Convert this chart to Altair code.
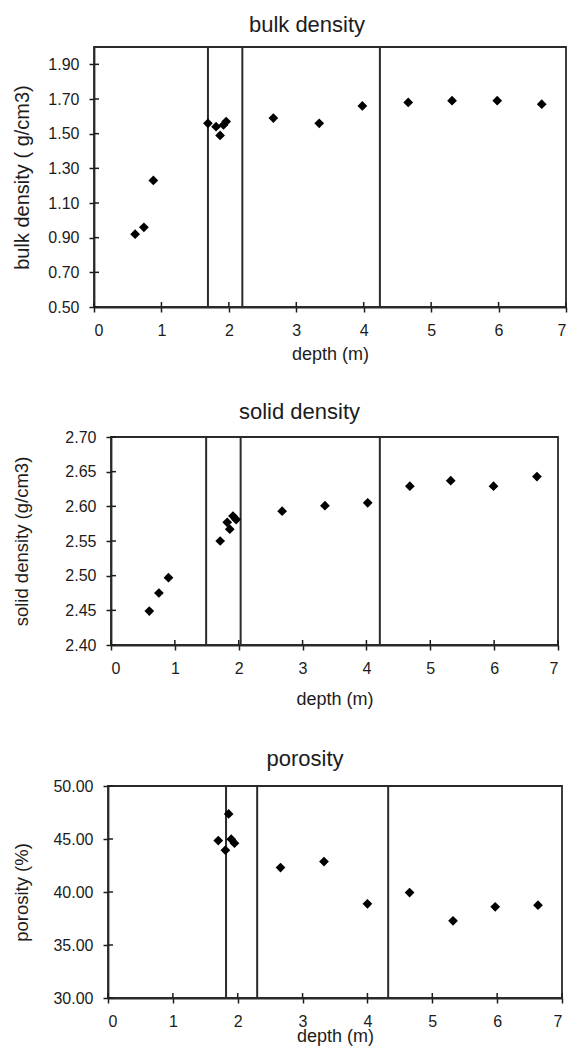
import altair as alt
import pandas as pd

# ---------------- data ----------------
x_ticks = [0, 1, 2, 3, 4, 5, 6, 7]

depth_bulk = [0.61, 0.74, 0.88, 1.69, 1.81, 1.87, 1.92, 1.96, 2.66, 3.34, 3.98, 4.66, 5.31, 5.98, 6.64]
bulk_density = [0.92, 0.96, 1.23, 1.56, 1.54, 1.49, 1.55, 1.57, 1.59, 1.56, 1.66, 1.68, 1.69, 1.69, 1.67]
bulk_bounds = [1.69, 2.20, 4.24]
bulk_ticks = [0.5, 0.7, 0.9, 1.1, 1.3, 1.5, 1.7, 1.9]

depth_solid = [0.60, 0.75, 0.90, 1.71, 1.82, 1.86, 1.91, 1.96, 2.68, 3.35, 4.02, 4.68, 5.32, 5.99, 6.67]
solid_density = [2.449, 2.475, 2.497, 2.550, 2.577, 2.567, 2.586, 2.581, 2.593, 2.601, 2.605, 2.629, 2.637, 2.629, 2.643]
solid_bounds = [1.49, 2.03, 4.21]
solid_ticks = [2.40, 2.45, 2.50, 2.55, 2.60, 2.65, 2.70]

depth_por = [1.70, 1.86, 1.81, 1.90, 1.95, 2.66, 3.33, 4.00, 4.65, 5.32, 5.97, 6.63]
porosity = [44.85, 47.36, 43.94, 44.98, 44.60, 42.31, 42.87, 38.89, 39.95, 37.28, 38.60, 38.76]
por_bounds = [1.82, 2.30, 4.32]
por_ticks = [30, 35, 40, 45, 50]

FONT = "Liberation Sans"
INK = "#1c1c1c"
LINE = "#2a2a2a"


def spacer(w):
    # invisible view that only reserves horizontal room
    return alt.Chart(pd.DataFrame({"s": [0]})).mark_point(
        opacity=0, size=1
    ).encode(x=alt.value(w / 2), y=alt.value(0.5)).properties(
        width=w, height=1, view=alt.ViewBackground(stroke="transparent")
    )


def panel(depths, values, bounds, yticks, ydomain, title, ytitle, width, height,
          title_dx, title_offset, ytitle_x, xtitle_y, ytitle_size):
    x = alt.X(
        "depth:Q",
        scale=alt.Scale(domain=[0, 7], nice=False, zero=False),
        axis=alt.Axis(
            values=x_ticks, format="d", title="depth (m)", grid=False,
            tickSize=5, labelPadding=10.5, titleY=xtitle_y,
            labelFontSize=16, titleFontSize=18, titleFontWeight="normal",
        ),
    )
    y = alt.Y(
        "value:Q",
        scale=alt.Scale(domain=ydomain, nice=False, zero=False),
        axis=alt.Axis(
            values=yticks, format=".2f", title=ytitle, grid=False,
            tickSize=5, labelPadding=10, titleX=ytitle_x,
            labelFontSize=16, titleFontSize=ytitle_size, titleFontWeight="normal",
        ),
    )
    pts = pd.DataFrame({"depth": depths, "value": values})
    lines = pd.DataFrame({"depth": bounds})
    yt = pd.DataFrame({"value": yticks})
    xt = pd.DataFrame({"depth": x_ticks})

    rules = alt.Chart(lines).mark_rule(color=LINE, strokeWidth=2).encode(x=x)
    ytick_in = alt.Chart(yt).mark_rule(color=INK, strokeWidth=1.5).encode(
        y=y, x=alt.value(0), x2=alt.value(5))
    xtick_in = alt.Chart(xt).mark_rule(color=INK, strokeWidth=1.5).encode(
        x=x, y=alt.value(height - 5), y2=alt.value(height))
    marks = alt.Chart(pts).mark_point(
        shape="diamond", filled=True, color="black", size=95, opacity=1
    ).encode(x=x, y=y)

    return alt.layer(rules, ytick_in, xtick_in, marks).properties(
        width=width, height=height,
        view=alt.ViewBackground(stroke=LINE, strokeWidth=1.8),
        title=alt.TitleParams(
            text=title, fontSize=22, font=FONT, fontWeight="normal",
            color=INK, frame="group", anchor="middle", dx=title_dx,
            offset=title_offset,
        ),
    )


p1 = panel(depth_bulk, bulk_density, bulk_bounds, bulk_ticks, [0.5, 2.0],
           "bulk density", "bulk density ( g/cm3)", 472, 260,
           -23, 9.5, -62, 38.7, 20)
p2 = panel(depth_solid, solid_density, solid_bounds, solid_ticks, [2.40, 2.70],
           "solid density", "solid density (g/cm3)", 447, 208,
           -35, 5.0, -80, 45.2, 18.5)
p3 = panel(depth_por, porosity, por_bounds, por_ticks, [30, 50],
           "porosity", "porosity (%)", 454, 212,
           -30, 7.5, -76.4, 29, 18.5)

row1 = alt.hconcat(spacer(9), p1, spacing=0)
row2 = alt.hconcat(spacer(9), p2, spacing=0)
row3 = alt.hconcat(spacer(9), p3, spacing=0)

chart = (
    alt.vconcat(alt.vconcat(row1, row2, spacing=35), row3, spacing=36)
    .properties(padding={"left": 0, "top": 12, "right": 0, "bottom": 0},
                background="white")
    .configure_axis(
        labelFont=FONT, titleFont=FONT, labelColor=INK, titleColor=INK,
        domainColor=LINE, domainWidth=1.8, tickColor=INK, tickWidth=1.5,
    )
)

chart.save("out.html", embed_options={"renderer": "svg", "actions": False})
